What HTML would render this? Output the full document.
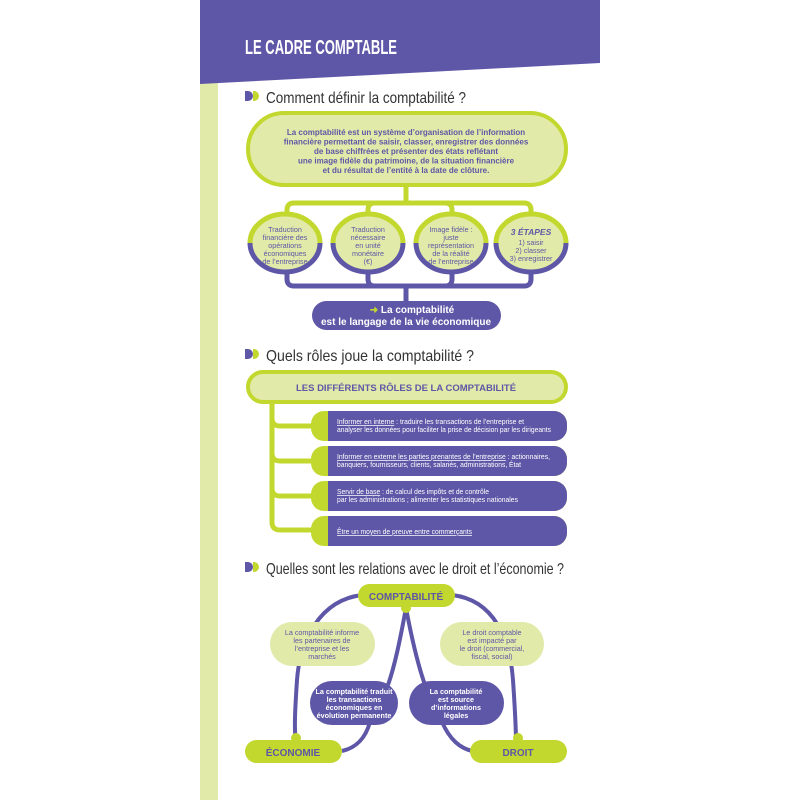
<!DOCTYPE html>
<html><head><meta charset="utf-8"><style>
body{margin:0;background:#fff}
svg{display:block}
text{font-family:"Liberation Sans",sans-serif}
</style></head><body>
<svg width="800" height="800" viewBox="0 0 800 800" xmlns="http://www.w3.org/2000/svg">
<defs>
<g id="c"><ellipse cx="0" cy="0" rx="35" ry="29" fill="#e1eaa9" stroke="none"/>
<path d="M-35,0 A35,29 0 0 1 35,0" fill="none" stroke="#c3d82e" stroke-width="5"/><path d="M-35,0 A35,29 0 0 0 35,0" fill="none" stroke="#5e56a6" stroke-width="5"/></g>
</defs>
<rect width="800" height="800" fill="#fff"/>
<rect x="200" y="70" width="18" height="730" fill="#e1eaa9"/>
<polygon points="200,0 600,0 600,63 200,84" fill="#5e56a6"/>
<text x="245" y="54" fill="#fff" font-size="20" font-weight="bold" textLength="152" lengthAdjust="spacingAndGlyphs">LE CADRE COMPTABLE</text>

<g>
<path d="M245,91 h3 a5,5 0 0 1 0,10 h-3z" fill="#5e56a6"/><path d="M253,91 h1 a5,5 0 0 1 0,10 h-1z" fill="#c3d82e"/>
<text x="266" y="103" font-size="16" fill="#333" textLength="200" lengthAdjust="spacingAndGlyphs">Comment définir la comptabilité ?</text>
<path d="M245,349 h3 a5,5 0 0 1 0,10 h-3z" fill="#5e56a6"/><path d="M253,349 h1 a5,5 0 0 1 0,10 h-1z" fill="#c3d82e"/>
<text x="266" y="361" font-size="16" fill="#333" textLength="208" lengthAdjust="spacingAndGlyphs">Quels rôles joue la comptabilité ?</text>
<path d="M245,562 h3 a5,5 0 0 1 0,10 h-3z" fill="#5e56a6"/><path d="M253,562 h1 a5,5 0 0 1 0,10 h-1z" fill="#c3d82e"/>
<text x="266" y="574" font-size="16" fill="#333" textLength="298" lengthAdjust="spacingAndGlyphs">Quelles sont les relations avec le droit et l’économie ?</text>
</g>

<rect x="248" y="113" width="318" height="72" rx="36" fill="#e1eaa9" stroke="#c3d82e" stroke-width="4"/>
<g fill="#5e56a6" font-size="8" font-weight="bold" text-anchor="middle">
<text x="406" y="135">La comptabilité est un système d’organisation de l’information</text>
<text x="406" y="144.5">financière permettant de saisir, classer, enregistrer des données</text>
<text x="406" y="154">de base chiffrées et présenter des états reflétant</text>
<text x="406" y="163.5">une image fidèle du patrimoine, de la situation financière</text>
<text x="406" y="173">et du résultat de l’entité à la date de clôture.</text>
</g>
<path d="M406,185 V203 M287,213 V210 q0,-7 7,-7 H524 q7,0 7,7 V213 M368,213 V210 q0,-7 7,-7 M452,213 V210 q0,-7 -7,-7" fill="none" stroke="#c3d82e" stroke-width="5"/>
<path d="M287,274 V279 q0,7 7,7 H524 q7,0 7,-7 V274 M368,274 V279 q0,7 7,7 M452,274 V279 q0,7 -7,7 M406,286 V302" fill="none" stroke="#5e56a6" stroke-width="5"/>
<use href="#c" transform="translate(285,243)"/>
<use href="#c" transform="translate(368,243)"/>
<use href="#c" transform="translate(451,243)"/>
<use href="#c" transform="translate(531,243)"/>
<g fill="#5e56a6" font-size="7.2" text-anchor="middle">
<text x="285" y="232">Traduction</text><text x="285" y="240">financière des</text><text x="285" y="248">opérations</text><text x="285" y="256">économiques</text><text x="285" y="264">de l’entreprise</text>
<text x="368" y="232">Traduction</text><text x="368" y="240">nécessaire</text><text x="368" y="248">en unité</text><text x="368" y="256">monétaire</text><text x="368" y="264">(€)</text>
<text x="451" y="232">Image fidèle :</text><text x="451" y="240">juste</text><text x="451" y="248">représentation</text><text x="451" y="256">de la réalité</text><text x="451" y="264">de l’entreprise</text>
<text x="531" y="235" font-weight="bold" font-style="italic" font-size="8.5">3 ÉTAPES</text><text x="531" y="245">1) saisir</text><text x="531" y="253">2) classer</text><text x="531" y="261">3) enregistrer</text>
</g>
<rect x="312" y="301" width="189" height="29" rx="14.5" fill="#5e56a6"/>
<g fill="#fff" font-size="10" font-weight="bold" text-anchor="middle">
<text x="412" y="313"><tspan fill="#c3d82e">➜</tspan> La comptabilité</text>
<text x="406" y="325">est le langage de la vie économique</text>
</g>

<rect x="248" y="372" width="318" height="30" rx="15" fill="#e1eaa9" stroke="#c3d82e" stroke-width="4"/>
<text x="406" y="391" fill="#5e56a6" font-size="9.5" font-weight="bold" text-anchor="middle">LES DIFFÉRENTS RÔLES DE LA COMPTABILITÉ</text>
<path d="M272,402 V522 q0,8 8,8 H314 M272,418 q0,8 8,8 H314 M272,453 q0,8 8,8 H314 M272,488 q0,8 8,8 H314" fill="none" stroke="#c3d82e" stroke-width="5"/>
<g>
<rect x="311" y="411" width="256" height="30" rx="13" fill="#c3d82e"/><rect x="328" y="411" width="239" height="30" rx="13" fill="#5e56a6"/><rect x="328" y="411" width="20" height="30" fill="#5e56a6"/>
<rect x="311" y="446" width="256" height="30" rx="13" fill="#c3d82e"/><rect x="328" y="446" width="239" height="30" rx="13" fill="#5e56a6"/><rect x="328" y="446" width="20" height="30" fill="#5e56a6"/>
<rect x="311" y="481" width="256" height="30" rx="13" fill="#c3d82e"/><rect x="328" y="481" width="239" height="30" rx="13" fill="#5e56a6"/><rect x="328" y="481" width="20" height="30" fill="#5e56a6"/>
<rect x="311" y="516" width="256" height="30" rx="13" fill="#c3d82e"/><rect x="328" y="516" width="239" height="30" rx="13" fill="#5e56a6"/><rect x="328" y="516" width="20" height="30" fill="#5e56a6"/>
</g>
<g fill="#fff" font-size="7.4">
<text x="337" y="424" textLength="187" lengthAdjust="spacingAndGlyphs"><tspan text-decoration="underline">Informer en interne</tspan> : traduire les transactions de l’entreprise et</text>
<text x="337" y="432" textLength="214" lengthAdjust="spacingAndGlyphs">analyser les données pour faciliter la prise de décision par les dirigeants</text>
<text x="337" y="459" textLength="213" lengthAdjust="spacingAndGlyphs"><tspan text-decoration="underline">Informer en externe les parties prenantes de l’entreprise</tspan> : actionnaires,</text>
<text x="337" y="467" textLength="184" lengthAdjust="spacingAndGlyphs">banquiers, fournisseurs, clients, salariés, administrations, État</text>
<text x="337" y="494" textLength="152" lengthAdjust="spacingAndGlyphs"><tspan text-decoration="underline">Servir de base</tspan> : de calcul des impôts et de contrôle</text>
<text x="337" y="502" textLength="181" lengthAdjust="spacingAndGlyphs">par les administrations ; alimenter les statistiques nationales</text>
<text x="337" y="534" textLength="135" lengthAdjust="spacingAndGlyphs" text-decoration="underline">Être un moyen de preuve entre commerçants</text>
</g>

<g fill="none" stroke="#5e56a6" stroke-width="4">
<path d="M362,595 C320,600 300,640 297,680 C295,710 294,730 296,742"/>
<path d="M452,595 C495,600 510,640 513,680 C515,710 516,730 516,742"/>
<path d="M406,608 C400,640 395,665 388,685"/>
<path d="M406,608 C412,640 418,665 425,685"/>
<path d="M370,722 C365,740 355,748 342,751"/>
<path d="M442,722 C450,740 460,748 472,751"/>
</g>
<circle cx="406" cy="608" r="5" fill="#c3d82e"/>
<circle cx="296" cy="738" r="5" fill="#c3d82e"/>
<circle cx="518" cy="738" r="5" fill="#c3d82e"/>
<rect x="358" y="584" width="97" height="23" rx="11.5" fill="#c3d82e"/>
<text x="406" y="600" fill="#5e56a6" font-size="10" font-weight="bold" text-anchor="middle">COMPTABILITÉ</text>
<rect x="245" y="740" width="97" height="23" rx="11.5" fill="#c3d82e"/>
<text x="293" y="756" fill="#5e56a6" font-size="10" font-weight="bold" text-anchor="middle">ÉCONOMIE</text>
<rect x="470" y="740" width="97" height="23" rx="11.5" fill="#c3d82e"/>
<text x="518" y="756" fill="#5e56a6" font-size="10" font-weight="bold" text-anchor="middle">DROIT</text>
<rect x="270" y="622" width="105" height="44" rx="22" fill="#e1eaa9"/>
<rect x="440" y="622" width="104" height="44" rx="22" fill="#e1eaa9"/>
<rect x="310" y="681" width="88" height="44" rx="22" fill="#5e56a6"/>
<rect x="409" y="681" width="95" height="44" rx="22" fill="#5e56a6"/>
<g fill="#5e56a6" font-size="7.2" text-anchor="middle">
<text x="322" y="635">La comptabilité informe</text><text x="322" y="643">les partenaires de</text><text x="322" y="651">l’entreprise et les</text><text x="322" y="659">marchés</text>
<text x="492" y="635">Le droit comptable</text><text x="492" y="643">est impacté par</text><text x="492" y="651">le droit (commercial,</text><text x="492" y="659">fiscal, social)</text>
</g>
<g fill="#fff" font-size="7.2" font-weight="bold" text-anchor="middle">
<text x="354" y="694">La comptabilité traduit</text><text x="354" y="702">les transactions</text><text x="354" y="710">économiques en</text><text x="354" y="718">évolution permanente</text>
<text x="456" y="694">La comptabilité</text><text x="456" y="702">est source</text><text x="456" y="710">d’informations</text><text x="456" y="718">légales</text>
</g>
</svg>
</body></html>
